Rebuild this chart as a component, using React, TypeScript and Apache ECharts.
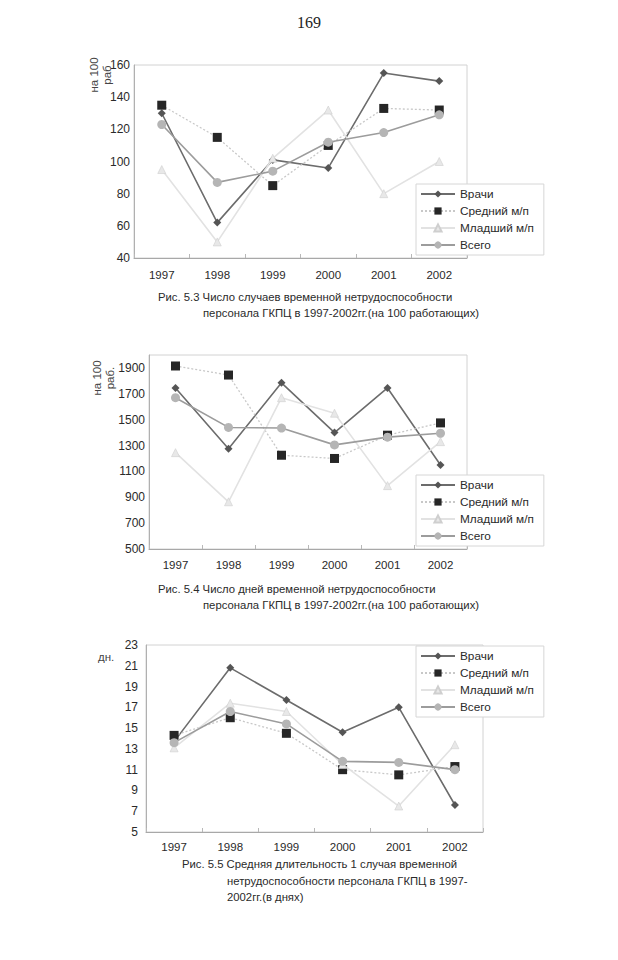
import { useEffect, useRef } from "react";
import * as echarts from "echarts";

const years = ["1997", "1998", "1999", "2000", "2001", "2002"];
const seriesNames = ["Врачи", "Средний м/п", "Младший м/п", "Всего"];

// Fig 5.3 — cases per 100 workers
const casesDoctors = [130, 62, 101, 96, 155, 150];
const casesNurses = [135, 115, 85, 110, 133, 132];
const casesJunior = [95, 50, 102, 132, 80, 100];
const casesTotal = [123, 87, 94, 112, 118, 129];

// Fig 5.4 — days per 100 workers
const daysDoctors = [1745, 1275, 1785, 1400, 1745, 1150];
const daysNurses = [1915, 1845, 1225, 1200, 1380, 1475];
const daysJunior = [1245, 865, 1670, 1550, 990, 1330];
const daysTotal = [1670, 1440, 1435, 1305, 1365, 1395];

// Fig 5.5 — mean duration of one case (days)
const durDoctors = [13.7, 20.8, 17.7, 14.6, 17.0, 7.6];
const durNurses = [14.3, 16.0, 14.5, 11.0, 10.5, 11.3];
const durJunior = [13.1, 17.4, 16.6, 11.5, 7.5, 13.4];
const durTotal = [13.6, 16.6, 15.4, 11.8, 11.7, 11.0];

const ticks1 = [40, 60, 80, 100, 120, 140, 160];
const ticks2 = [500, 700, 900, 1100, 1300, 1500, 1700, 1900];
const ticks3 = [5, 7, 9, 11, 13, 15, 17, 19, 21, 23];

const captions1 = [
  "Рис. 5.3 Число случаев временной нетрудоспособности",
  "персонала ГКПЦ в 1997-2002гг.(на 100 работающих)",
];
const captions2 = [
  "Рис. 5.4 Число дней временной нетрудоспособности",
  "персонала ГКПЦ в 1997-2002гг.(на 100 работающих)",
];
const captions3 = [
  "Рис. 5.5 Средняя длительность 1 случая временной",
  "нетрудоспособности персонала ГКПЦ в 1997-",
  "2002гг.(в днях)",
];

const FONT = "'Liberation Sans', Arial, sans-serif";
const TXT = "#2a2a2a";

const seriesStyles = [
  {
    lineStyle: { color: "#6c6c6c", width: 1.6 },
    itemStyle: { color: "#555555" },
    symbol: "diamond",
    symbolSize: 8,
  },
  {
    lineStyle: { color: "#c8c8c8", width: 1.3, type: [2, 2] },
    itemStyle: { color: "#262626" },
    symbol: "rect",
    symbolSize: 9,
  },
  {
    lineStyle: { color: "#e2e2e2", width: 1.6 },
    itemStyle: { color: "#e8e8e8", borderColor: "#cfcfcf", borderWidth: 0.6 },
    symbol: "triangle",
    symbolSize: 8,
  },
  {
    lineStyle: { color: "#9c9c9c", width: 1.6 },
    itemStyle: { color: "#b5b5b5" },
    symbol: "circle",
    symbolSize: 9,
  },
];

const grids = [
  { left: 134, top: 65, width: 333, height: 193 },
  { left: 149, top: 355, width: 318, height: 194 },
  { left: 146, top: 645, width: 337, height: 187 },
];

export default function App() {
  const ref = useRef<HTMLDivElement>(null);

  useEffect(() => {
    if (!ref.current) return;
    const chart = echarts.init(ref.current, undefined, { renderer: "svg" });

    const chartsData = [
      { values: [casesDoctors, casesNurses, casesJunior, casesTotal], min: 40, max: 160, ticks: ticks1, yMargin: 4, xMargin: 11 },
      { values: [daysDoctors, daysNurses, daysJunior, daysTotal], min: 500, max: 2000, ticks: ticks2, yMargin: 4, xMargin: 10 },
      { values: [durDoctors, durNurses, durJunior, durTotal], min: 5, max: 23, ticks: ticks3, yMargin: 8, xMargin: 9 },
    ];

    const series: any[] = [];
    chartsData.forEach((c, gi) => {
      c.values.forEach((vals, si) => {
        const st = seriesStyles[si];
        series.push({
          type: "line",
          name: seriesNames[si],
          xAxisIndex: gi,
          yAxisIndex: gi,
          data: vals,
          symbol: st.symbol,
          symbolSize: st.symbolSize,
          lineStyle: st.lineStyle,
          itemStyle: st.itemStyle,
          z: 2 + si,
        });
      });
    });

    const legendTops = [184, 475, 646];

    const captionText = (lines: string[], xs: number[], ys: number[]) =>
      lines.map((t, i) => ({
        type: "text",
        x: xs[i],
        y: ys[i],
        style: { text: t, fontSize: 11.3, fontFamily: FONT, fill: TXT, verticalAlign: "middle" },
      }));

    const option: any = {
      animation: false,
      backgroundColor: "#ffffff",
      grid: grids.map((g) => ({
        ...g,
        show: true,
        borderColor: "#d2d2d2",
        borderWidth: 1,
        backgroundColor: "transparent",
        containLabel: false,
      })),
      xAxis: chartsData.map((c, i) => ({
        type: "category",
        gridIndex: i,
        data: years,
        boundaryGap: true,
        axisLine: { show: true, lineStyle: { color: "#a8a8a8", width: 1 } },
        axisTick: { show: true, inside: true, length: 4, lineStyle: { color: "#b8b8b8" } },
        axisLabel: { fontSize: 11.5, color: TXT, fontFamily: FONT, margin: c.xMargin },
        splitLine: { show: false },
      })),
      yAxis: chartsData.map((c, i) => ({
        type: "value",
        gridIndex: i,
        min: c.min,
        max: c.max,
        axisLine: { show: true, lineStyle: { color: "#b0b0b0", width: 1 } },
        axisTick: { show: false },
        splitLine: { show: false },
        axisLabel: {
          customValues: c.ticks,
          formatter: (v: number) => String(v),
          fontSize: 12,
          color: TXT,
          fontFamily: FONT,
          margin: c.yMargin,
        },
      })),
      legend: legendTops.map((top) => ({
        data: seriesNames,
        orient: "vertical",
        left: 416,
        top,
        itemWidth: 34,
        itemHeight: 9,
        itemGap: 5,
        selectedMode: false,
        backgroundColor: "#ffffff",
        borderColor: "#d6d6d6",
        borderWidth: 1,
        padding: [4, 10, 4, 4],
        textStyle: { fontSize: 11.8, color: TXT, fontFamily: FONT },
      })),
      series,
      graphic: [
        {
          type: "text",
          x: 309,
          y: 22,
          style: {
            text: "169",
            fontSize: 16,
            fontFamily: "'Liberation Serif', 'Times New Roman', serif",
            fill: "#222",
            align: "center",
            verticalAlign: "middle",
          },
        },
        {
          type: "text",
          x: 100,
          y: 75,
          rotation: Math.PI / 2,
          style: { text: "на 100\nраб", fontSize: 11.5, fontFamily: FONT, fill: "#444", align: "center", verticalAlign: "middle", lineHeight: 13 },
        },
        {
          type: "text",
          x: 103,
          y: 378,
          rotation: Math.PI / 2,
          style: { text: "на 100\nраб.", fontSize: 11.5, fontFamily: FONT, fill: "#444", align: "center", verticalAlign: "middle", lineHeight: 13 },
        },
        {
          type: "text",
          x: 98,
          y: 657,
          style: { text: "дн.", fontSize: 11.5, fontFamily: FONT, fill: "#444", verticalAlign: "middle" },
        },
        ...captionText(captions1, [158, 203], [297, 313]),
        ...captionText(captions2, [158, 203], [589, 605]),
        ...captionText(captions3, [182, 227, 227], [864, 881, 897]),
      ],
    };

    chart.setOption(option);
    return () => chart.dispose();
  }, []);

  return (
    <div
      ref={ref}
      style={{ position: "absolute", left: 0, top: 0, width: 618, height: 960, background: "#fff" }}
    />
  );
}
